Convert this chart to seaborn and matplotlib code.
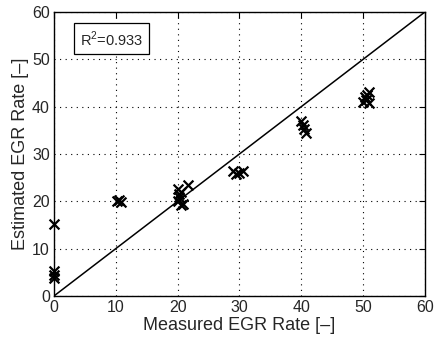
import matplotlib
matplotlib.use("Agg")
import matplotlib.pyplot as plt
import numpy as np
import pandas as pd
import seaborn as sns

# measured vs estimated EGR rate
measured = [
	0.0, 0.0, 0.0, 0.0,
	10.2, 10.5, 10.8,
	20.0, 20.2, 20.3, 20.5, 20.1, 20.5, 20.8, 21.6,
	29.0, 29.5, 30.0, 30.5,
	40.0, 40.2, 40.5, 40.7,
	50.0, 50.3, 50.6, 50.9, 50.5, 51.0,
]
estimated = [
	15.3, 5.3, 4.5, 3.7,
	20.0, 20.2, 19.9,
	22.5, 21.5, 21.0, 22.0, 20.0, 19.3, 19.5, 23.5,
	26.5, 25.8, 26.0, 26.3,
	37.0, 36.2, 35.2, 34.5,
	41.0, 42.0, 42.5, 43.0, 41.5, 40.8,
]
ref_line = [0, 60]
ticks = [0, 10, 20, 30, 40, 50, 60]
r2_text = "R$^2$=0.933"

sns.set_style("white")
plt.rcParams["font.family"] = ["Liberation Sans", "DejaVu Sans"]
plt.rcParams["mathtext.fontset"] = "custom"
plt.rcParams["mathtext.rm"] = "Liberation Sans"

fig = plt.figure(figsize=(4.35, 3.41), dpi=100)
ax = fig.add_axes([0.124, 0.132, 0.853, 0.833])

df = pd.DataFrame({"measured": measured, "estimated": estimated})
sns.lineplot(x=ref_line, y=ref_line, ax=ax, color="black", lw=1.1)
sns.scatterplot(data=df, x="measured", y="estimated", ax=ax, marker="x",
	color="black", s=50, linewidth=1.6, zorder=3, clip_on=False)

ax.set_xlim(0, 60)
ax.set_ylim(0, 60)
ax.set_xticks(ticks)
ax.set_yticks(ticks)
ax.tick_params(direction="in", top=True, right=True, length=4, width=0.8,
	labelsize=11.5, pad=3, color="black")
ax.grid(True, linestyle=(0, (1, 4)), color="black", linewidth=0.8)
for side in ax.spines.values():
	side.set_color("black")
	side.set_linewidth(1.0)

ax.set_xlabel("Measured EGR Rate [\u2013]", fontsize=13, labelpad=1)
ax.set_ylabel("Estimated EGR Rate [\u2013]", fontsize=13, labelpad=2)

ax.text(0.07, 0.905, r2_text, transform=ax.transAxes, fontsize=10.5,
	va="center", ha="left",
	bbox=dict(boxstyle="square,pad=0.4", facecolor="white", edgecolor="black", linewidth=0.9))

fig.savefig("out.png", dpi=100)
